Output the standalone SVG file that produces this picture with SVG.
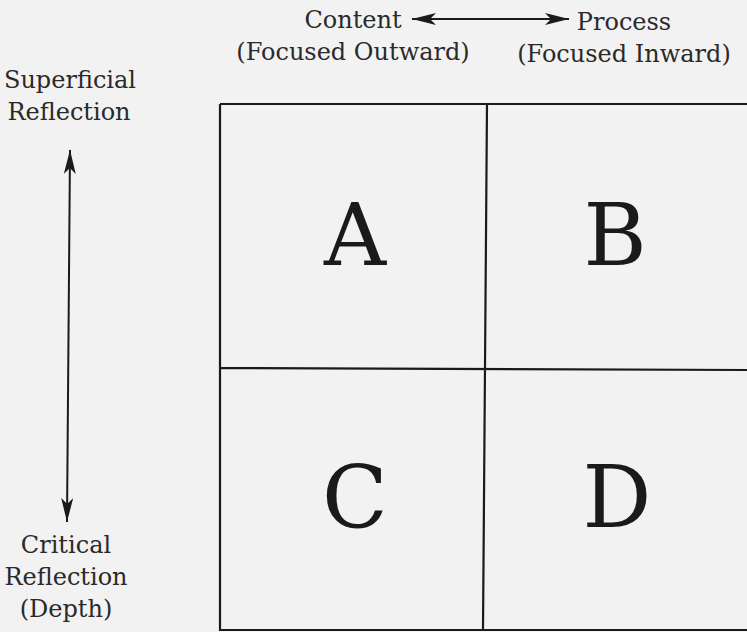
<svg xmlns="http://www.w3.org/2000/svg" width="747" height="632" viewBox="0 0 747 632">
<style>
.t{font-family:"DejaVu Serif","Liberation Serif",serif;font-size:24px;fill:#2a2a2a;text-anchor:middle}
.big{font-family:"DejaVu Serif","Liberation Serif",serif;font-size:86px;fill:#1a1a1a;text-anchor:middle}
.ln{stroke:#1a1a1a;stroke-width:2.2;fill:none}
.ar{stroke:#1a1a1a;stroke-width:2;fill:none}
</style>
<defs>
<marker id="ah" viewBox="0 0 24 12" refX="24" refY="6" markerWidth="24" markerHeight="12" markerUnits="userSpaceOnUse" orient="auto-start-reverse">
<path d="M0,0 L24,6 L0,12 L6,6 Z" fill="#1a1a1a"/>
</marker>
</defs>
<rect width="747" height="632" fill="#f2f2f2"/>
<g id="labels">
<text class="t" x="353" y="28">Content</text>
<text class="t" x="353" y="60">(Focused Outward)</text>
<text class="t" x="624" y="30">Process</text>
<text class="t" x="624" y="62">(Focused Inward)</text>
<text class="t" x="70" y="88">Superficial</text>
<text class="t" x="69" y="120">Reflection</text>
<text class="t" x="66" y="553">Critical</text>
<text class="t" x="66" y="585">Reflection</text>
<text class="t" x="66" y="617">(Depth)</text>
</g>
<g id="grid">
<path class="ln" d="M220,104 L747,104 M220,104 L220,630 L747,630 M487,104 L483,630 M220,368 L747,370"/>
</g>
<g id="A"><text class="big" x="355" y="265">A</text></g>
<g id="B"><text class="big" x="615" y="265">B</text></g>
<g id="C"><text class="big" x="355" y="527">C</text></g>
<g id="D"><text class="big" x="617" y="527">D</text></g>
<g id="connectors">
<line class="ar" x1="412" y1="19" x2="569" y2="19" marker-start="url(#ah)" marker-end="url(#ah)"/>
<line class="ar" x1="70" y1="150" x2="67" y2="522" marker-start="url(#ah)" marker-end="url(#ah)"/>
</g>
</svg>
